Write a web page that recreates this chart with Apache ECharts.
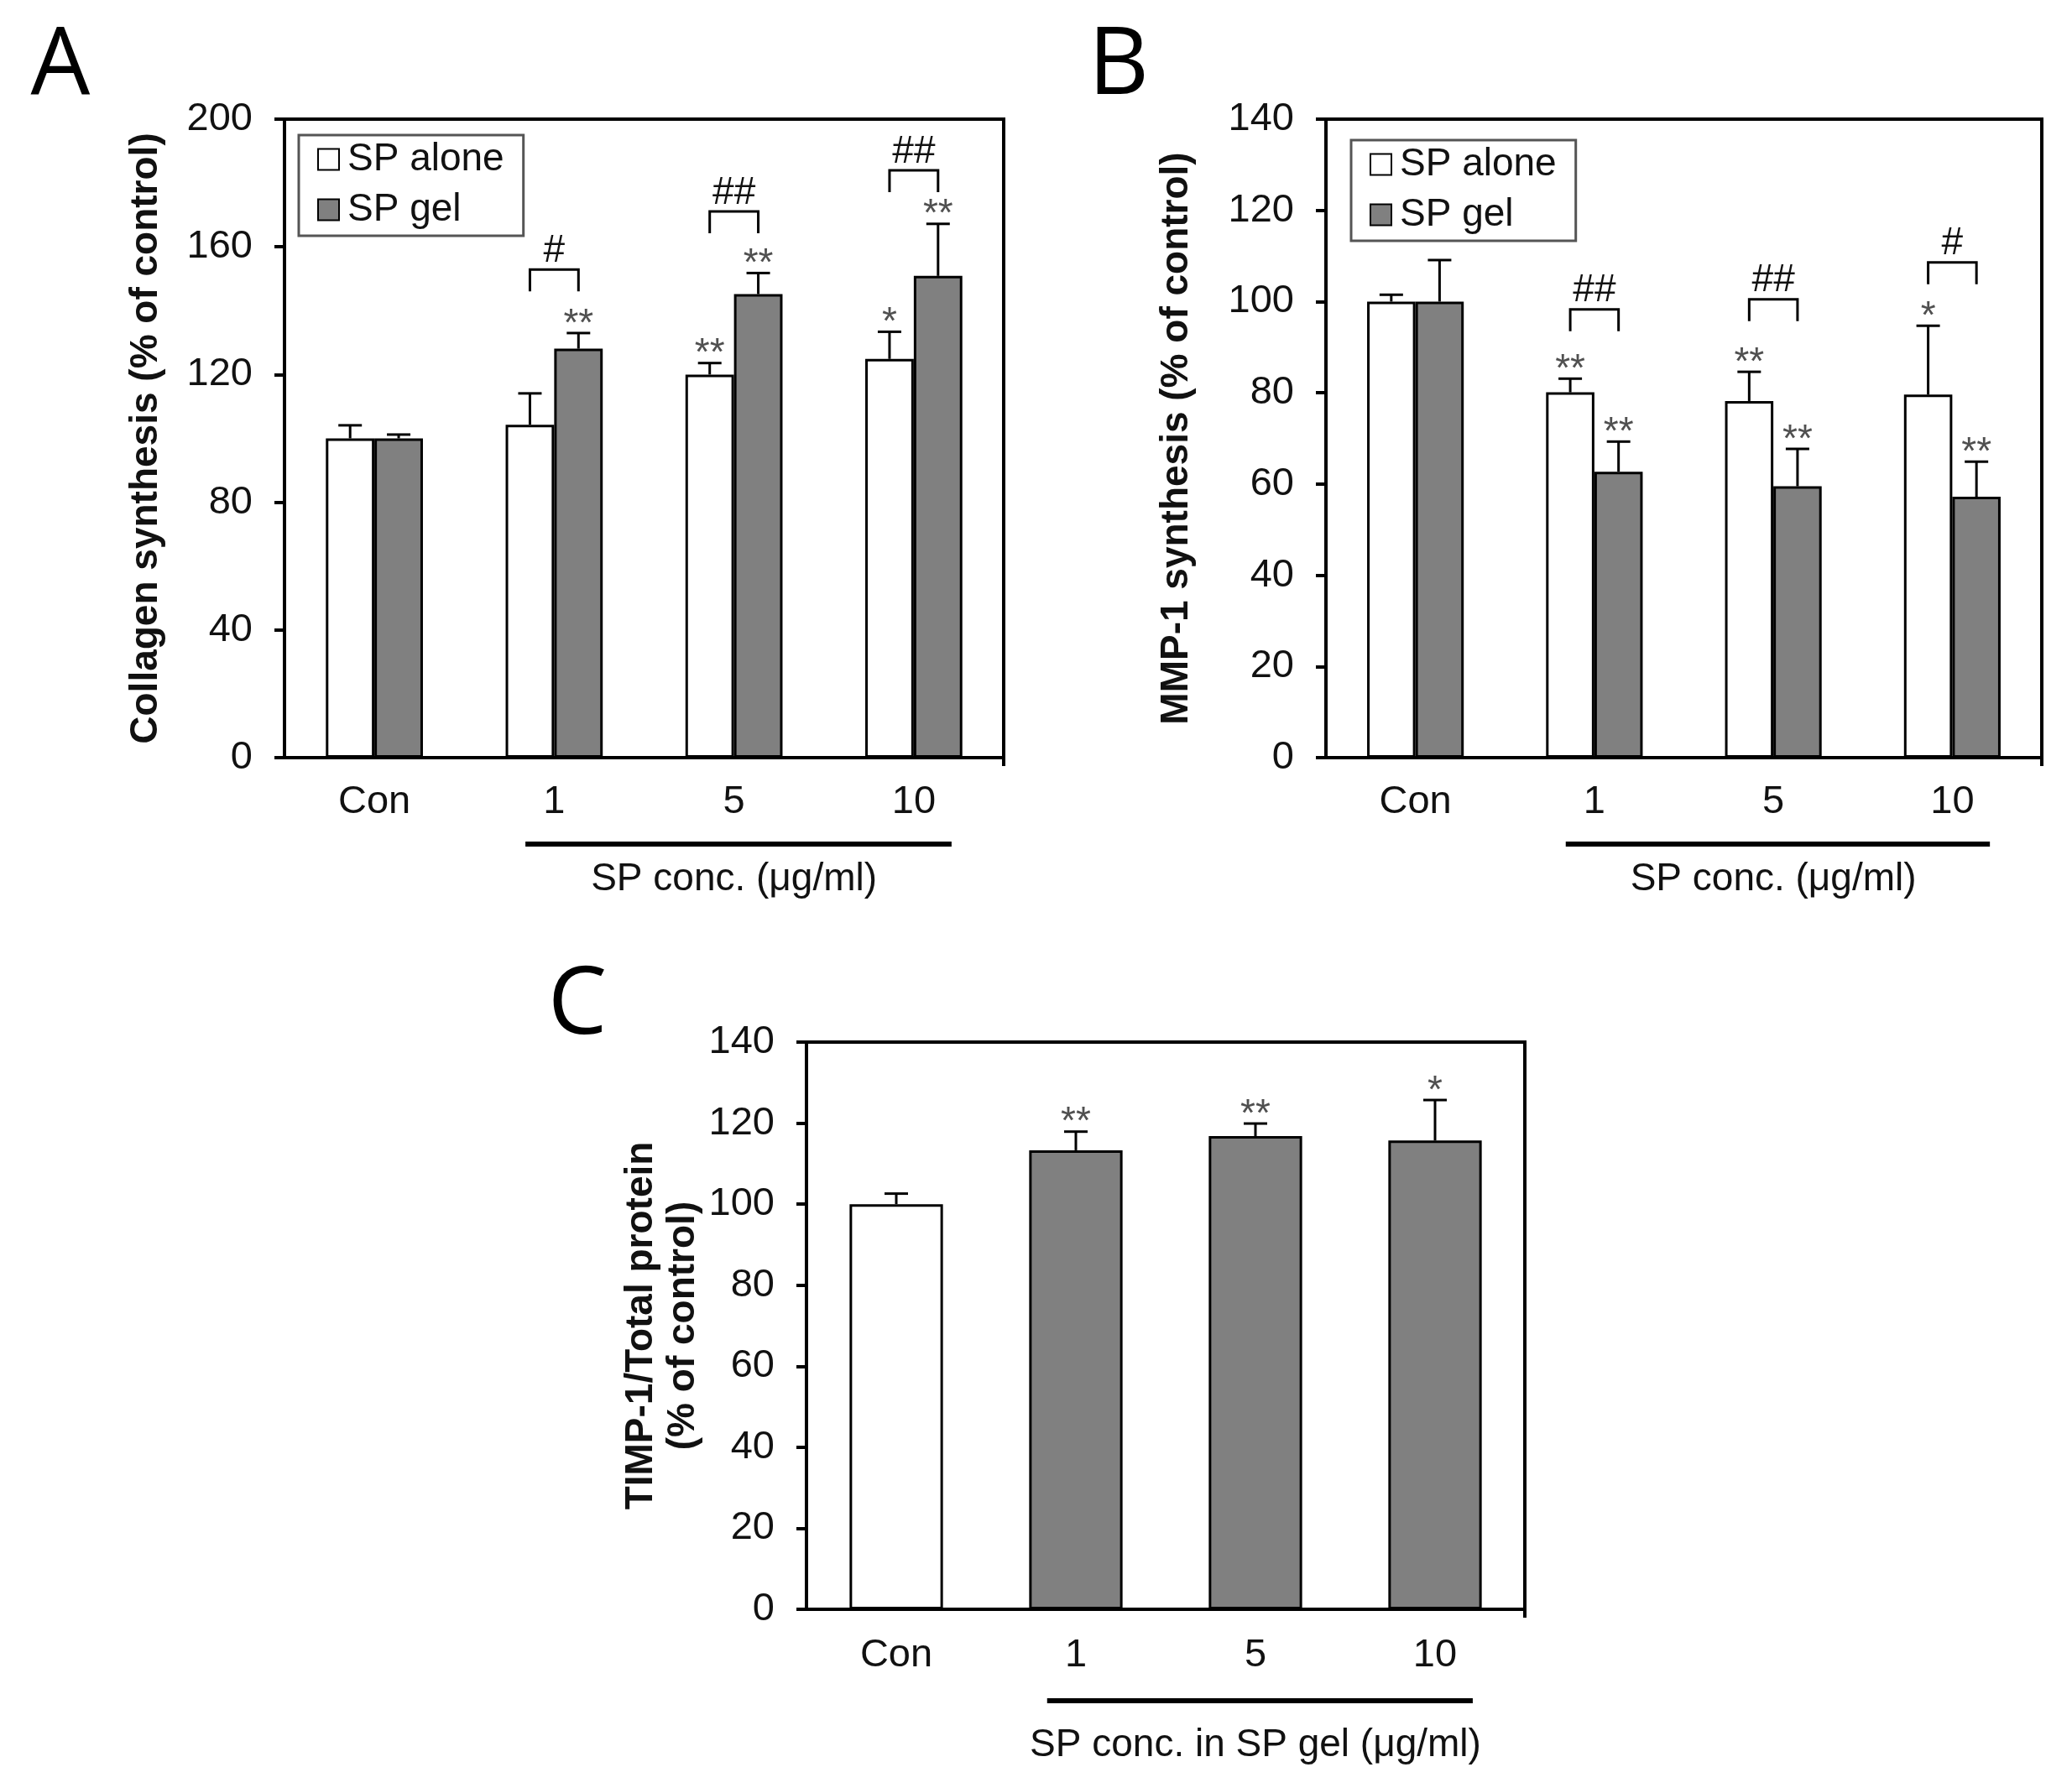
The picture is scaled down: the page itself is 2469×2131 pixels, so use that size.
<!DOCTYPE html>
<html>
<head>
<meta charset="utf-8">
<script src="https://cdn.jsdelivr.net/npm/echarts@6/dist/echarts.min.js"></script>
<style>
    html, body { margin: 0; padding: 0; background: #fff; }
    #chart { width: 2469px; height: 2131px; }
</style>
</head>
<body>
<div id="chart"></div>
<script>
    // categories
    const cats = ['Con', '1', '5', '10'];

    // A: collagen synthesis (% of control)
    const collagenAlone = [100, 104.3, 120.0, 124.9];
    const collagenAloneErr = [4.1, 9.8, 3.6, 8.5];
    const collagenGel = [100, 128.1, 145.2, 150.9];
    const collagenGelErr = [1.2, 4.9, 6.6, 16.3];
    const collagenAloneSig = ['', '', '**', '*'];
    const collagenGelSig = ['', '**', '**', '**'];
    const collagenHash = ['', '#', '##', '##'];
    const collagenBracket = [null, 152.9, 171.1, 184.0];

    // B: MMP-1 synthesis (% of control)
    const mmpAlone = [100, 80.1, 78.2, 79.6];
    const mmpAloneErr = [1.5, 3.0, 6.4, 15.1];
    const mmpGel = [100, 62.7, 59.5, 57.2];
    const mmpGelErr = [9.1, 6.6, 8.2, 7.7];
    const mmpAloneSig = ['', '**', '**', '*'];
    const mmpGelSig = ['', '**', '**', '**'];
    const mmpHash = ['', '##', '##', '#'];
    const mmpBracket = [null, 98.3, 100.5, 108.6];

    // C: TIMP-1/total protein (% of control)
    const timp = [100, 113.3, 116.8, 115.7];
    const timpErr = [2.6, 4.6, 3.1, 10.0];
    const timpSig = ['', '**', '**', '*'];

    const FONT = 'Liberation Sans, Arial, sans-serif';
    const GREY = '#808080';
    const GAP = 0.46;       // bar category gap for grouped panels
    const GAP_C = 0.48;

    // x centre of bar "slot" inside a category band
    function slotX(api, idx, slot, nSlots, gap) {
        let band = api.size([1, 0])[0];
        let c = api.coord([idx, 0])[0];
        let bw = band * (1 - gap) / nSlots;
        return c - band * (1 - gap) / 2 + bw * (slot + 0.5);
    }

    function errorBars(g, means, errs, sigs, slot, nSlots, gap) {
        return {
            type: 'custom',
            xAxisIndex: g,
            yAxisIndex: g,
            z: 4,
            silent: true,
            data: means.map((m, i) => [i, m, errs[i]]),
            renderItem: function (params, api) {
                let i = api.value(0);
                let x = slotX(api, i, slot, nSlots, gap);
                let y0 = api.coord([i, api.value(1)])[1];
                let top = api.coord([i, api.value(1) + api.value(2)])[1];
                let children = [
                    { type: 'line', shape: { x1: x, y1: y0, x2: x, y2: top }, style: { stroke: '#000', lineWidth: 3 } },
                    { type: 'line', shape: { x1: x - 14, y1: top, x2: x + 14, y2: top }, style: { stroke: '#000', lineWidth: 3 } }
                ];
                let sig = sigs[params.dataIndex];
                if (sig) {
                    children.push({
                        type: 'text',
                        x: x, y: top - 10,
                        style: { text: sig, fill: '#505050', fontSize: 46, fontFamily: FONT, align: 'center', verticalAlign: 'middle' }
                    });
                }
                return { type: 'group', children: children };
            }
        };
    }

    function brackets(g, levels, hashes) {
        return {
            type: 'custom',
            xAxisIndex: g,
            yAxisIndex: g,
            z: 4,
            silent: true,
            data: levels.map((v, i) => [i, v == null ? 0 : v]),
            renderItem: function (params, api) {
                let i = api.value(0);
                if (levels[i] == null) return null;
                let x1 = slotX(api, i, 0, 2, GAP);
                let x2 = slotX(api, i, 1, 2, GAP);
                let y = api.coord([i, api.value(1)])[1];
                return {
                    type: 'group',
                    children: [
                        { type: 'polyline', shape: { points: [[x1, y + 26], [x1, y], [x2, y], [x2, y + 26]] }, style: { stroke: '#000', lineWidth: 3, fill: null } },
                        {
                            type: 'text', x: (x1 + x2) / 2, y: y - 22,
                            style: { text: hashes[i], fill: '#111', fontSize: 46, fontFamily: FONT, align: 'center', verticalAlign: 'middle' }
                        }
                    ]
                };
            }
        };
    }

    // underline below the concentration categories plus its caption
    function concNote(g, text, lineOff, textOff) {
        return {
            type: 'custom',
            xAxisIndex: g,
            yAxisIndex: g,
            silent: true,
            clip: false,
            data: [[1, 3]],
            renderItem: function (params, api) {
                let band = api.size([1, 0])[0];
                let p1 = api.coord([api.value(0), 0]);
                let p2 = api.coord([api.value(1), 0]);
                let x1 = p1[0] - band * 0.16;
                let x2 = p2[0] + band * 0.21;
                let y = p1[1] + lineOff;
                let xEnd = p2[0] + band / 2;
                return {
                    type: 'group',
                    children: [
                        // frame edge running past the axis at the right end
                        { type: 'line', shape: { x1: xEnd, y1: p1[1], x2: xEnd, y2: p1[1] + 10 }, style: { stroke: '#000', lineWidth: 4 } },
                        { type: 'line', shape: { x1: x1, y1: y, x2: x2, y2: y }, style: { stroke: '#000', lineWidth: 6 } },
                        {
                            type: 'text', x: (p1[0] + p2[0]) / 2, y: p1[1] + textOff,
                            style: { text: text, fill: '#111', fontSize: 46, fontFamily: FONT, align: 'center', verticalAlign: 'middle' }
                        }
                    ]
                };
            }
        };
    }

    function xAxisOf(g, margin) {
        return {
            type: 'category',
            gridIndex: g,
            data: cats,
            axisLine: { lineStyle: { color: '#000', width: 4 } },
            axisTick: { alignWithLabel: true, length: 10, lineStyle: { color: '#000', width: 4 } },
            axisLabel: { color: '#111', fontSize: 47, fontFamily: FONT, margin: margin }
        };
    }

    function yAxisOf(g, max, interval, name, gap, lineHeight) {
        return {
            type: 'value',
            gridIndex: g,
            min: 0,
            max: max,
            interval: interval,
            name: name,
            nameLocation: 'middle',
            nameRotate: 90,
            nameGap: gap,
            nameTextStyle: { color: '#111', fontSize: 46, fontWeight: 'bold', fontFamily: FONT, lineHeight: lineHeight },
            splitLine: { show: false },
            axisLine: { show: true, lineStyle: { color: '#000', width: 4 } },
            axisTick: { show: true, length: 12, lineStyle: { color: '#000', width: 4 } },
            axisLabel: { color: '#111', fontSize: 47, fontFamily: FONT, margin: 38 }
        };
    }

    function barSeries(g, name, data, color, gap) {
        return {
            type: 'bar',
            name: name,
            xAxisIndex: g,
            yAxisIndex: g,
            data: data,
            barGap: '0%',
            barCategoryGap: (gap * 100) + '%',
            itemStyle: { color: color, borderColor: '#000', borderWidth: 3 },
            z: 2
        };
    }

    function legendAt(left, top) {
        return {
            orient: 'vertical',
            left: left,
            top: top,
            data: ['SP alone', 'SP gel'],
            icon: 'rect',
            itemWidth: 25,
            itemHeight: 25,
            itemGap: 14,
            padding: [6, 23, 8, 22],
            borderColor: '#555',
            borderWidth: 3,
            selectedMode: false,
            textStyle: { color: '#111', fontSize: 46, fontFamily: FONT, padding: [0, 0, 0, 5] }
        };
    }

    function panelLetter(text, x, y) {
        return {
            type: 'text', x: x, y: y,
            style: { text: text, fill: '#000', fontSize: 112, fontFamily: 'Open Sans, Noto Sans, sans-serif', align: 'center', verticalAlign: 'middle' }
        };
    }

    let chart = echarts.init(document.getElementById('chart'), null, { renderer: 'canvas' });

    chart.setOption({
        backgroundColor: '#fff',
        animation: false,
        graphic: [
            panelLetter('A', 72, 80),
            panelLetter('B', 1333, 80),
            panelLetter('C', 688, 1200)
        ],
        legend: [legendAt(356, 161), legendAt(1610, 167)],
        grid: [
            { left: 339, top: 142, width: 857, height: 761, show: true, borderColor: '#000', borderWidth: 4 },
            { left: 1580, top: 142, width: 853, height: 761, show: true, borderColor: '#000', borderWidth: 4 },
            { left: 961, top: 1242, width: 856, height: 676, show: true, borderColor: '#000', borderWidth: 4 }
        ],
        xAxis: [xAxisOf(0, 30), xAxisOf(1, 30), xAxisOf(2, 32)],
        yAxis: [
            yAxisOf(0, 200, 40, 'Collagen synthesis (% of control)', 142, 46),
            yAxisOf(1, 140, 20, 'MMP-1 synthesis (% of control)', 155, 46),
            yAxisOf(2, 140, 20, 'TIMP-1/Total protein\n(% of control)', 122, 50)
        ],
        series: [
            barSeries(0, 'SP alone', collagenAlone, '#fff', GAP),
            barSeries(0, 'SP gel', collagenGel, GREY, GAP),
            errorBars(0, collagenAlone, collagenAloneErr, collagenAloneSig, 0, 2, GAP),
            errorBars(0, collagenGel, collagenGelErr, collagenGelSig, 1, 2, GAP),
            brackets(0, collagenBracket, collagenHash),
            concNote(0, 'SP conc. (μg/ml)', 103, 145),

            barSeries(1, 'SP alone', mmpAlone, '#fff', GAP),
            barSeries(1, 'SP gel', mmpGel, GREY, GAP),
            errorBars(1, mmpAlone, mmpAloneErr, mmpAloneSig, 0, 2, GAP),
            errorBars(1, mmpGel, mmpGelErr, mmpGelSig, 1, 2, GAP),
            brackets(1, mmpBracket, mmpHash),
            concNote(1, 'SP conc. (μg/ml)', 103, 145),

            {
                type: 'bar',
                name: 'TIMP-1',
                xAxisIndex: 2,
                yAxisIndex: 2,
                data: timp.map((v, i) => ({ value: v, itemStyle: { color: i === 0 ? '#fff' : GREY } })),
                barCategoryGap: (GAP_C * 100) + '%',
                itemStyle: { borderColor: '#000', borderWidth: 3 },
                z: 2
            },
            errorBars(2, timp, timpErr, timpSig, 0, 1, GAP_C),
            concNote(2, 'SP conc. in SP gel (μg/ml)', 109, 162)
        ]
    });
</script>
</body>
</html>
